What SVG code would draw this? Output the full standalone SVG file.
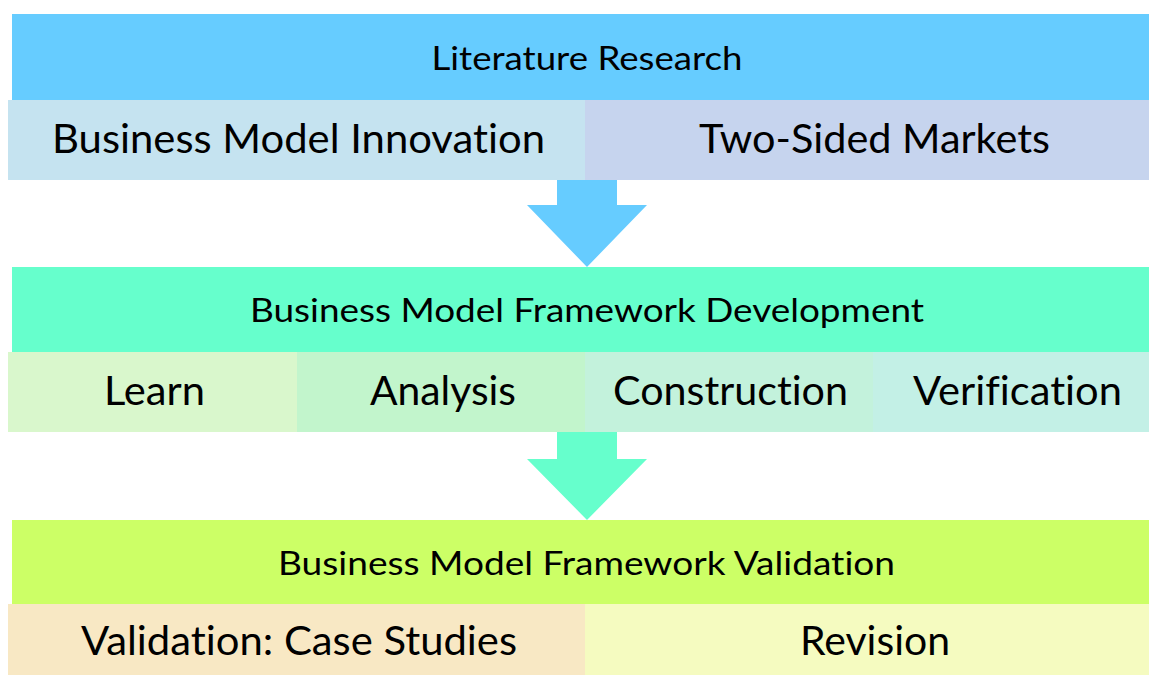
<svg xmlns="http://www.w3.org/2000/svg" width="1149" height="675" viewBox="0 0 1149 675">
<style>
.h,.s{font-family:Lato,"Open Sans","Liberation Sans",sans-serif;fill:#000;text-anchor:middle;font-variant-ligatures:none;font-feature-settings:"liga" 0,"clig" 0}
.h{font-size:33px}
.s{font-size:40px}
</style>
<rect width="1149" height="675" fill="#fff"/>
<g id="literature-research">
<rect x="12" y="14" width="1137" height="86" fill="#66CCFF"/>
<text class="h" x="587" y="70" textLength="311" lengthAdjust="spacingAndGlyphs">Literature Research</text>
</g>
<g id="bmi">
<rect x="8" y="100" width="577" height="80" fill="#C5E3F0"/>
<text class="s" x="298.5" y="153" textLength="493" lengthAdjust="spacingAndGlyphs">Business Model Innovation</text>
</g>
<g id="tsm">
<rect x="585" y="100" width="564" height="80" fill="#C6D4EE"/>
<text class="s" x="874.5" y="153" textLength="351" lengthAdjust="spacingAndGlyphs">Two-Sided Markets</text>
</g>
<g id="framework-development">
<rect x="12" y="267" width="1137" height="85" fill="#66FFCC"/>
<text class="h" x="587" y="322" textLength="674" lengthAdjust="spacingAndGlyphs">Business Model Framework Development</text>
</g>
<g id="learn">
<rect x="8" y="352" width="289" height="80" fill="#D9F7CC"/>
<text class="s" x="154.5" y="405" textLength="101" lengthAdjust="spacingAndGlyphs">Learn</text>
</g>
<g id="analysis">
<rect x="297" y="352" width="288" height="80" fill="#C2F5CC"/>
<text class="s" x="443" y="405" textLength="146" lengthAdjust="spacingAndGlyphs">Analysis</text>
</g>
<g id="construction">
<rect x="585" y="352" width="288" height="80" fill="#C3F2DC"/>
<text class="s" x="730.5" y="405" textLength="235" lengthAdjust="spacingAndGlyphs">Construction</text>
</g>
<g id="verification">
<rect x="873" y="352" width="276" height="80" fill="#C3F0E6"/>
<text class="s" x="1017.5" y="405" textLength="209" lengthAdjust="spacingAndGlyphs">Verification</text>
</g>
<g id="framework-validation">
<rect x="12" y="520" width="1137" height="84" fill="#CCFF66"/>
<text class="h" x="586.5" y="575" textLength="617" lengthAdjust="spacingAndGlyphs">Business Model Framework Validation</text>
</g>
<g id="case-studies">
<rect x="8" y="604" width="577" height="71" fill="#F8E8C4"/>
<text class="s" x="299" y="655" textLength="436" lengthAdjust="spacingAndGlyphs">Validation: Case Studies</text>
</g>
<g id="revision">
<rect x="585" y="604" width="564" height="71" fill="#F5FBC0"/>
<text class="s" x="875" y="655" textLength="150" lengthAdjust="spacingAndGlyphs">Revision</text>
</g>
<g id="connectors">
<polygon points="557,180 617,180 617,205 647,205 587,267 527,205 557,205" fill="#66CCFF"/>
<polygon points="557,432 617,432 617,459 647,459 587,520 527,459 557,459" fill="#66FFCC"/>
</g>
</svg>
